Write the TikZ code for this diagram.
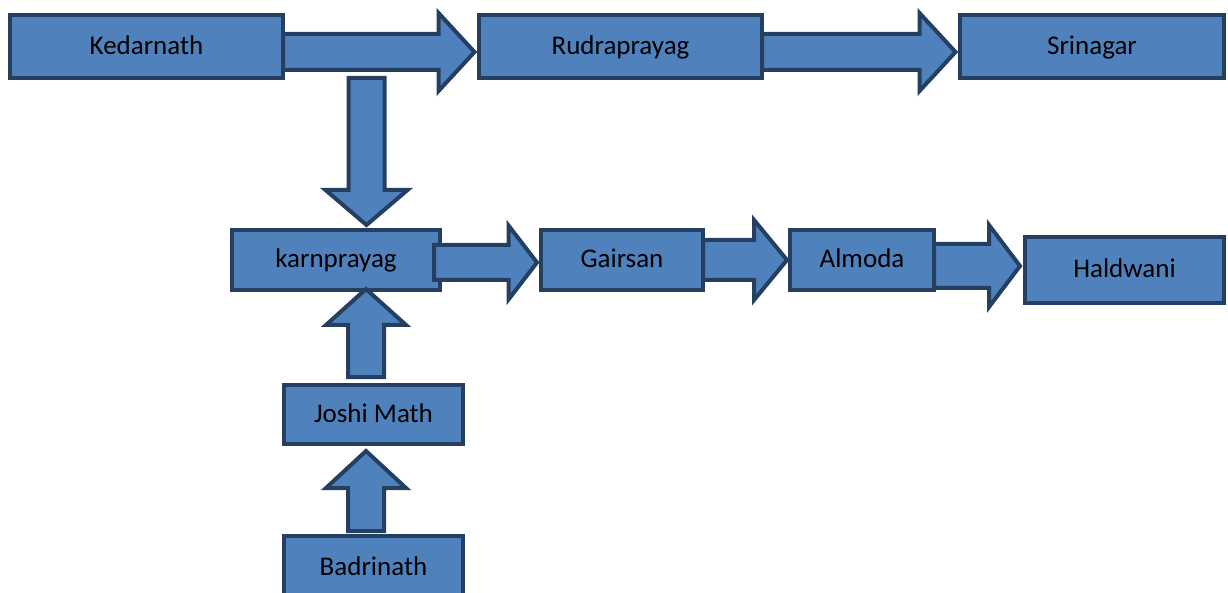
\documentclass[tikz,border=0pt]{standalone}
\usepackage{fontspec}
\setmainfont{Carlito}
\usetikzlibrary{calc}
\definecolor{boxfill}{HTML}{4F81BD}
\definecolor{boxline}{HTML}{243F60}
\tikzset{
  place/.style={draw=boxline, fill=boxfill, line width=4pt, miter limit=10,
    inner sep=0pt, outer sep=0pt, text=black,
    font=\fontsize{27}{30}\selectfont, text height=22pt, text depth=6pt},
  barrow/.style={draw=boxline, fill=boxfill, line width=4pt, line join=miter, miter limit=10}
}
% rightward block arrow: start (x used), tip, half shaft, half head, head length
\newcommand\harw[5]{\draw[barrow] let \p1=(#1), \p2=(#2) in
  (\x1,{\y2-#3}) -- ({\x2-#5},{\y2-#3}) -- ({\x2-#5},{\y2-#4}) -- (\p2) --
  ({\x2-#5},{\y2+#4}) -- ({\x2-#5},{\y2+#3}) -- (\x1,{\y2+#3}) -- cycle;}
% vertical block arrow: start (y used), tip, half shaft, half head, head length
\newcommand\varw[5]{\draw[barrow] let \p1=(#1), \p2=(#2), \n1={sign(\y1-\y2)} in
  ({\x2-#3},\y1) -- ({\x2-#3},{\y2+\n1*#5}) -- ({\x2-#4},{\y2+\n1*#5}) -- (\p2) --
  ({\x2+#4},{\y2+\n1*#5}) -- ({\x2+#3},{\y2+\n1*#5}) -- ({\x2+#3},\y1) -- cycle;}
\begin{document}
\begin{tikzpicture}[x=1pt,y=-1pt]
\clip (0,0) rectangle (1228,593);
% boxes
\node[place, minimum width=273pt, minimum height=63pt] (kedar) at (146.5,46.5) {Kedarnath};
\node[place, minimum width=283pt, minimum height=63pt] (rudra) at (620.5,46.5) {Rudraprayag};
\node[place, minimum width=264pt, minimum height=63pt] (srin) at (1092,46.5) {Srinagar};
\node[place, minimum width=208pt, minimum height=60pt] (karn) at (336,260) {karnprayag};
\node[place, minimum width=162pt, minimum height=60pt] (gair) at (622,260) {Gairsan};
\node[place, minimum width=144pt, minimum height=60pt] (almo) at (862,260) {Almoda};
\node[place, minimum width=199pt, minimum height=66pt] (hald) at (1124.5,270) {Haldwani};
\node[place, minimum width=179pt, minimum height=59pt] (joshi) at (373.5,414.5) {Joshi Math};
\node[place, minimum width=179pt, minimum height=63pt] (badri) at (373.5,567.5) {Badrinath};
% block arrows
\harw{kedar.east}{[shift={(-4.5,5.5)}]rudra.west}{18pt}{39pt}{36pt}
\harw{rudra.east}{[shift={(-4.5,5.5)}]srin.west}{18pt}{39pt}{36pt}
\varw{kedar.south east}{[shift={(30.5,-5)}]karn.north}{18pt}{41pt}{35pt}
\harw{[xshift=-6pt]karn.east}{[shift={(-4,2.5)}]gair.west}{17.5pt}{37pt}{28.5pt}
\harw{gair.east}{[shift={(-3,0)}]almo.west}{20pt}{40pt}{33pt}
\harw{almo.east}{[shift={(-5,-4)}]hald.west}{22pt}{41pt}{31pt}
\varw{[shift={(0,-8)}]joshi.north}{[shift={(30,-1)}]karn.south}{18pt}{40pt}{36pt}
\varw{[shift={(0,-5)}]badri.north}{[shift={(-7.5,7)}]joshi.south}{18pt}{40pt}{37pt}
\end{tikzpicture}
\end{document}
